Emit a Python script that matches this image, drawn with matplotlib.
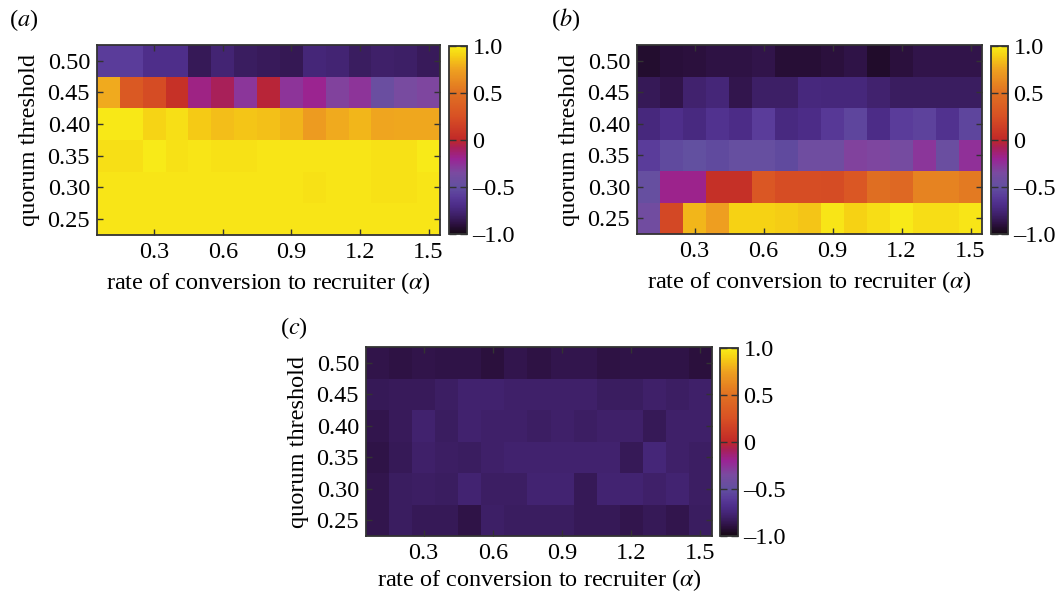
import numpy as np
import matplotlib
matplotlib.use("Agg")
import matplotlib.pyplot as plt
from matplotlib.colors import LinearSegmentedColormap
from matplotlib.ticker import FixedLocator, FixedFormatter

plt.rcParams['font.family'] = ['Liberation Serif', 'DejaVu Serif']
plt.rcParams['mathtext.fontset'] = 'stix'

# ---------------- data ----------------
alpha = [0.1, 0.2, 0.3, 0.4, 0.5, 0.6, 0.7, 0.8, 0.9, 1.0, 1.1, 1.2, 1.3, 1.4, 1.5]
threshold = [0.25, 0.30, 0.35, 0.40, 0.45, 0.50]
xticks = [0.3, 0.6, 0.9, 1.2, 1.5]
yticks = [0.25, 0.30, 0.35, 0.40, 0.45, 0.50]
cbar_ticks = [-1.0, -0.5, 0.0, 0.5, 1.0]
cbar_labels = ['\u20131.0', '\u20130.5', '0', '0.5', '1.0']

# rows: threshold 0.25 (bottom) ... 0.50 (top)
panel_a = [
    [0.97, 0.97, 0.97, 0.97, 0.97, 0.97, 0.97, 0.97, 0.97, 0.97, 0.97, 0.97, 0.97, 0.97, 0.97],
    [0.97, 0.97, 0.97, 0.97, 0.97, 0.97, 0.97, 0.97, 0.97, 0.96, 0.97, 0.97, 0.96, 0.96, 0.97],
    [0.95, 0.95, 0.99, 0.96, 0.97, 0.96, 0.96, 0.97, 0.97, 0.97, 0.97, 0.97, 0.96, 0.96, 0.99],
    [0.98, 0.98, 0.91, 0.95, 0.88, 0.84, 0.86, 0.85, 0.81, 0.72, 0.78, 0.82, 0.76, 0.77, 0.77],
    [0.78, 0.32, 0.22, 0.06, -0.17, -0.08, -0.27, -0.03, -0.26, -0.19, -0.32, -0.26, -0.45, -0.36, -0.33],
    [-0.60, -0.60, -0.68, -0.68, -0.84, -0.76, -0.82, -0.83, -0.85, -0.75, -0.76, -0.82, -0.79, -0.80, -0.83],
]
panel_b = [
    [-0.40, 0.20, 0.82, 0.74, 0.90, 0.90, 0.89, 0.86, 0.97, 0.90, 0.94, 0.99, 0.94, 0.94, 0.97],
    [-0.47, -0.18, -0.18, 0.05, 0.05, 0.30, 0.23, 0.23, 0.22, 0.30, 0.48, 0.43, 0.60, 0.60, 0.55],
    [-0.60, -0.53, -0.50, -0.53, -0.47, -0.47, -0.53, -0.42, -0.42, -0.32, -0.33, -0.38, -0.27, -0.45, -0.25],
    [-0.73, -0.68, -0.72, -0.66, -0.70, -0.60, -0.72, -0.70, -0.62, -0.55, -0.70, -0.60, -0.57, -0.66, -0.55],
    [-0.84, -0.87, -0.78, -0.75, -0.86, -0.80, -0.80, -0.73, -0.74, -0.74, -0.78, -0.82, -0.82, -0.82, -0.82],
    [-0.93, -0.91, -0.90, -0.89, -0.89, -0.87, -0.92, -0.92, -0.90, -0.88, -0.94, -0.90, -0.87, -0.87, -0.87],
]
panel_c = [
    [-0.86, -0.82, -0.84, -0.84, -0.88, -0.80, -0.82, -0.82, -0.82, -0.84, -0.84, -0.86, -0.84, -0.86, -0.82],
    [-0.86, -0.82, -0.81, -0.82, -0.77, -0.81, -0.81, -0.77, -0.77, -0.84, -0.77, -0.77, -0.79, -0.77, -0.81],
    [-0.88, -0.84, -0.79, -0.81, -0.82, -0.79, -0.78, -0.78, -0.78, -0.78, -0.78, -0.84, -0.75, -0.79, -0.81],
    [-0.86, -0.83, -0.78, -0.82, -0.78, -0.79, -0.79, -0.81, -0.79, -0.81, -0.79, -0.79, -0.84, -0.79, -0.79],
    [-0.84, -0.83, -0.83, -0.81, -0.78, -0.78, -0.79, -0.79, -0.79, -0.79, -0.82, -0.82, -0.79, -0.81, -0.79],
    [-0.87, -0.89, -0.87, -0.88, -0.88, -0.90, -0.86, -0.89, -0.86, -0.86, -0.89, -0.88, -0.88, -0.88, -0.90],
]

# ---------------- colormap ----------------
nodes = [
    (-1.00, '#140812'), (-0.90, '#2c1040'), (-0.80, '#3e2068'), (-0.70, '#4c2c88'),
    (-0.60, '#5a3c9a'), (-0.50, '#6250a0'), (-0.35, '#7a4aa0'), (-0.20, '#9a2494'),
    (-0.08, '#a82058'), (0.00, '#c02828'), (0.25, '#d85024'), (0.50, '#e07022'),
    (0.75, '#eea020'), (0.90, '#f6d014'), (1.00, '#f8ec18'),
]
cmap = LinearSegmentedColormap.from_list(
    'custom', [((v + 1) / 2, c) for v, c in nodes])

W, H = 1058, 593
fig = plt.figure(figsize=(W / 100, H / 100), dpi=100)

def px_axes(l, t, r, b):
    return fig.add_axes([l / W, 1 - b / H, (r - l) / W, (b - t) / H])

def edges(c):
    c = np.asarray(c, float)
    d = np.diff(c)
    mid = c[:-1] + d / 2
    return np.concatenate([[c[0] - d[0] / 2], mid, [c[-1] + d[-1] / 2]])

FS = 17.5
frame_col = '#333333'

def draw(ax_box, cb_box, data, label, label_pos, xlabelpad=5):
    ax = px_axes(*ax_box)
    mesh = ax.pcolormesh(edges(alpha), edges(threshold), np.array(data),
                         cmap=cmap, vmin=-1, vmax=1, shading='flat')
    ax.set_xlim(0.05, 1.55)
    ax.set_ylim(0.225, 0.525)
    ax.xaxis.set_major_locator(FixedLocator(xticks))
    ax.xaxis.set_major_formatter(FixedFormatter(['%.1f' % v for v in xticks]))
    ax.yaxis.set_major_locator(FixedLocator(yticks))
    ax.yaxis.set_major_formatter(FixedFormatter(['%.2f' % v for v in yticks]))
    ax.tick_params(direction='in', top=True, right=True, length=4, width=1,
                   labelsize=FS, color=frame_col, pad=5)
    for s in ax.spines.values():
        s.set_color(frame_col)
        s.set_linewidth(1.3)
    ax.set_xlabel(r'rate of conversion to recruiter ($\alpha$)', fontsize=FS,
                  labelpad=xlabelpad)
    ax.set_ylabel('quorum threshold', fontsize=FS, labelpad=5)

    cax = px_axes(*cb_box)
    cb = fig.colorbar(mesh, cax=cax)
    cb.set_ticks(cbar_ticks)
    cb.set_ticklabels(cbar_labels)
    cax.tick_params(direction='in', left=True, right=True, length=5, width=1,
                    labelsize=FS, color=frame_col, pad=4)
    cb.outline.set_edgecolor(frame_col)
    cb.outline.set_linewidth(1.3)

    fig.text(label_pos[0] / W, 1 - label_pos[1] / H, label, fontsize=FS,
             ha='left', va='center')

draw((97, 45, 440, 235), (449, 46, 467, 234), panel_a, r'($a$)', (9, 20))
draw((637, 45, 982, 234), (991, 46, 1008, 234), panel_b, r'($b$)', (551, 20))
draw((366, 347, 712, 536), (720, 348, 738, 536), panel_c, r'($c$)', (280, 328),
     xlabelpad=2)

fig.savefig('out.png', dpi=100)
